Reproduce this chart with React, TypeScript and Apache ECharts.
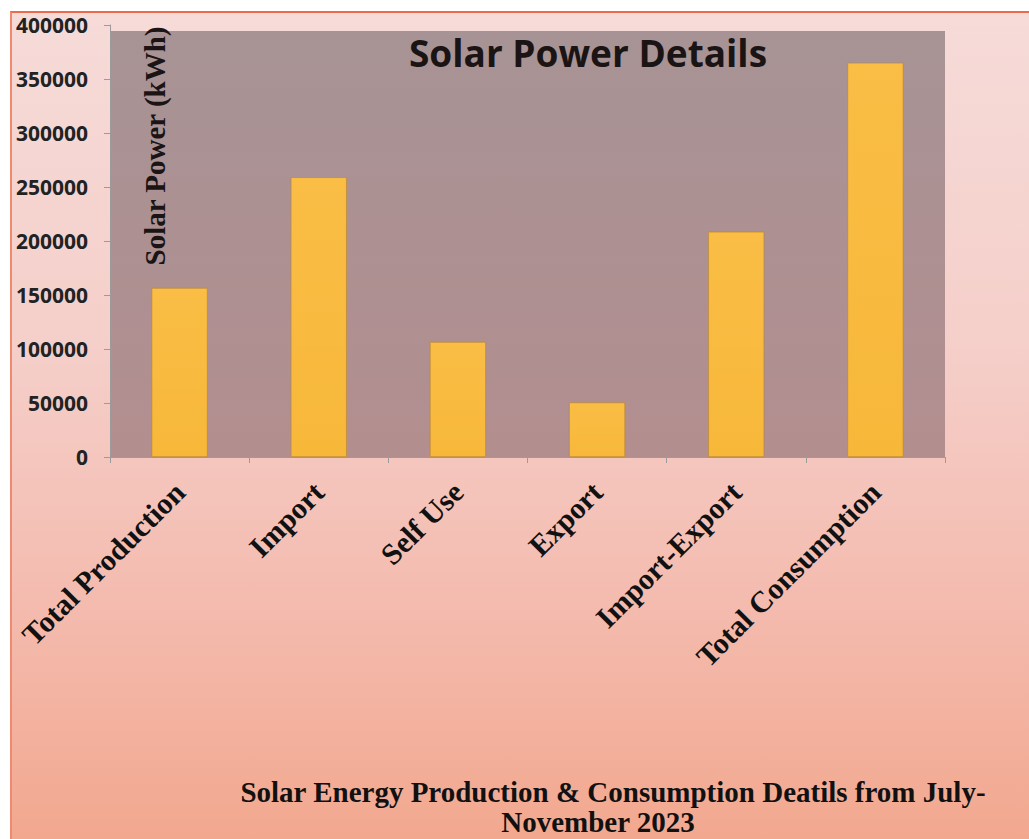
import React, { useEffect, useRef } from "react";
import * as echarts from "echarts";

const categories = [
  "Total Production",
  "Import",
  "Self Use",
  "Export",
  "Import-Export",
  "Total Consumption",
];
const values = [156500, 259000, 106500, 50500, 208500, 365000];
const yMin = 0;
const yMax = 400000;
const yInterval = 50000;
const chartTitle = "Solar Power Details";
const yAxisName = "Solar Power (kWh)";
const captionLines = [
  "Solar Energy Production & Consumption Deatils from July-",
  "November 2023",
];

export default function App() {
  const ref = useRef<HTMLDivElement>(null);

  useEffect(() => {
    if (!ref.current) return;
    const chart = echarts.init(ref.current, null, { renderer: "svg" });
    chart.setOption({
      animation: false,
      backgroundColor: "transparent",
      grid: {
        left: 110,
        right: 84,
        top: 25,
        bottom: 382,
        containLabel: false,
      },
      xAxis: {
        type: "category",
        data: categories,
        axisLine: { show: true, lineStyle: { color: "#9c9a9a", width: 1 } },
        axisTick: { show: true, length: 6, lineStyle: { color: "#9c9a9a" } },
        axisLabel: {
          rotate: 45,
          interval: 0,
          margin: 30,
          fontFamily: "Liberation Serif",
          fontWeight: "bold",
          fontSize: 30,
          color: "#111111",
        },
        splitLine: { show: false },
      },
      yAxis: {
        type: "value",
        min: yMin,
        max: yMax,
        interval: yInterval,
        axisLine: { show: true, lineStyle: { color: "#9c9a9a", width: 1 } },
        axisTick: { show: true, length: 6, lineStyle: { color: "#9c9a9a" } },
        axisLabel: {
          margin: 22,
          fontFamily: "Open Sans",
          fontWeight: "bold",
          fontSize: 21,
          color: "#222222",
          formatter: (v: number) => String(v),
        },
        splitLine: { show: false },
      },
      graphic: [
        {
          type: "rect",
          z: -10,
          silent: true,
          shape: { x: 110, y: 31, width: 835, height: 427 },
          style: {
            fill: new echarts.graphic.LinearGradient(0, 0, 0, 1, [
              { offset: 0, color: "#a79395" },
              { offset: 1, color: "#b38e8f" },
            ]),
          },
        },
        {
          type: "text",
          z: 10,
          x: 588,
          y: 52,
          style: {
            text: chartTitle,
            fontFamily: "Open Sans",
            fontWeight: "bold",
            fontSize: 37,
            fill: "#1a1414",
            textAlign: "center",
            textVerticalAlign: "middle",
          },
        },
        {
          type: "text",
          z: 10,
          x: 155,
          y: 146,
          rotation: Math.PI / 2,
          style: {
            text: yAxisName,
            fontFamily: "Liberation Serif",
            fontWeight: "bold",
            fontSize: 29,
            fill: "#1a1414",
            textAlign: "center",
            textVerticalAlign: "middle",
          },
        },
        {
          type: "text",
          z: 10,
          x: 613,
          y: 792,
          style: {
            text: captionLines[0],
            fontFamily: "Liberation Serif",
            fontWeight: "bold",
            fontSize: 29,
            fill: "#111111",
            textAlign: "center",
            textVerticalAlign: "middle",
          },
        },
        {
          type: "text",
          z: 10,
          x: 598,
          y: 822,
          style: {
            text: captionLines[1],
            fontFamily: "Liberation Serif",
            fontWeight: "bold",
            fontSize: 29,
            fill: "#111111",
            textAlign: "center",
            textVerticalAlign: "middle",
          },
        },
      ],
      series: [
        {
          type: "bar",
          data: values,
          barWidth: 56,
          itemStyle: {
            color: new echarts.graphic.LinearGradient(0, 0, 0, 1, [
              { offset: 0, color: "#fabd45" },
              { offset: 1, color: "#f7b83a" },
            ]),
            borderColor: "#b9852e",
            borderWidth: 0.6,
          },
        },
      ],
    });
    return () => chart.dispose();
  }, []);

  return (
    <div
      style={{
        position: "fixed",
        left: 0,
        top: 0,
        width: 1029,
        height: 839,
        background: "#ffffff",
        overflow: "hidden",
      }}
    >
      <div
        style={{
          position: "absolute",
          left: 10,
          top: 11,
          right: 0,
          bottom: 0,
          borderTop: "2px solid #ee6a4c",
          borderLeft: "2px solid #ee8a70",
          background:
            "linear-gradient(180deg, #f6dbd8 0%, #f5cfca 40%, #f4bcb0 70%, #f2a88f 100%)",
        }}
      />
      <div
        ref={ref}
        style={{ position: "absolute", left: 0, top: 0, width: 1029, height: 839 }}
      />
    </div>
  );
}
